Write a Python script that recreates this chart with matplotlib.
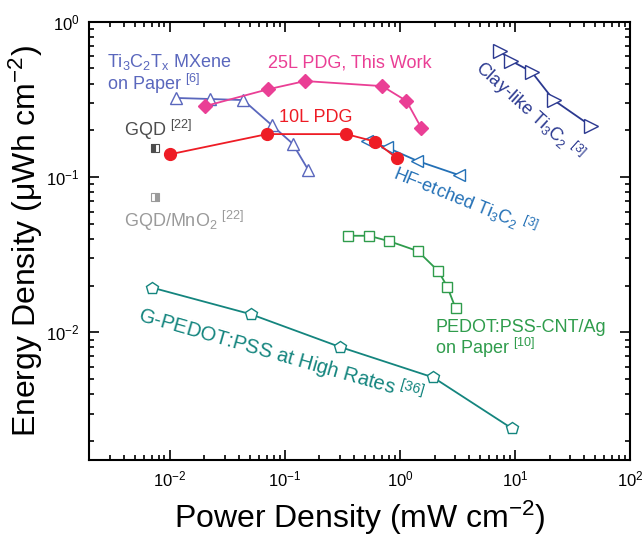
import numpy as np
import matplotlib
matplotlib.use("Agg")
import matplotlib.pyplot as plt

plt.rcParams['font.family'] = ['Liberation Sans', 'DejaVu Sans']
plt.rcParams['mathtext.fontset'] = 'custom'
plt.rcParams['mathtext.rm'] = 'Liberation Sans'
plt.rcParams['mathtext.it'] = 'Liberation Sans:italic'
plt.rcParams['mathtext.bf'] = 'Liberation Sans:bold'

# power density (mW cm-2), energy density (uWh cm-2)
pdg25_p = [0.0202, 0.0711, 0.150, 0.702, 1.14, 1.53]
pdg25_e = [0.286, 0.367, 0.415, 0.385, 0.309, 0.208]

pdg10_p = [0.0100, 0.0700, 0.342, 0.612, 0.946]
pdg10_e = [0.140, 0.189, 0.189, 0.169, 0.132]

mxene_p = [0.0113, 0.0226, 0.0435, 0.0775, 0.117, 0.160]
mxene_e = [0.323, 0.318, 0.313, 0.215, 0.164, 0.111]

clay_p = [7.43, 9.21, 13.95, 21.7, 45.9]
clay_e = [0.647, 0.561, 0.476, 0.313, 0.213]

hf_p = [0.519, 0.774, 1.42, 3.26]
hf_e = [0.171, 0.155, 0.127, 0.103]

cnt_p = [0.352, 0.536, 0.804, 1.43, 2.16, 2.58, 3.05]
cnt_e = [0.0419, 0.0419, 0.0387, 0.0334, 0.0248, 0.0197, 0.0143]

gpedot_p = [0.00706, 0.0506, 0.299, 1.95, 9.40]
gpedot_e = [0.0194, 0.0131, 0.00808, 0.00513, 0.00241]

gqd_p = [0.0075]
gqd_e = [0.154]
gqdmno2_p = [0.0075]
gqdmno2_e = [0.074]

c_pink = '#ea3f95'
c_red = '#ee1c25'
c_mx = '#5a67bd'
c_clay = '#2b3990'
c_hf = '#2370b6'
c_green = '#2f9c4c'
c_teal = '#14857e'
c_gqd = '#4d4d4d'
c_gqd2 = '#9a9a9a'

fig = plt.figure(figsize=(6.44, 5.36), dpi=100)
ax = fig.add_axes([0.1387, 0.1427, 0.8396, 0.8168])

lw = 1.3
ax.plot(mxene_p, mxene_e, '-^', color=c_mx, lw=lw, ms=9, mfc='white', mec=c_mx, mew=1.0)
ax.plot(clay_p, clay_e, '->', color=c_clay, lw=lw, ms=9.5, mfc='white', mec=c_clay, mew=1.0)
ax.plot(hf_p, hf_e, '-<', color=c_hf, lw=lw, ms=9, mfc='white', mec=c_hf, mew=1.0)
ax.plot(cnt_p, cnt_e, '-s', color=c_green, lw=lw, ms=7, mfc='white', mec=c_green, mew=1.0)
ax.plot(gpedot_p, gpedot_e, '-p', color=c_teal, lw=lw, ms=9, mfc='white', mec=c_teal, mew=1.0)
ax.plot(pdg10_p, pdg10_e, '-o', color=c_red, lw=lw, ms=8.5, mfc=c_red, mec=c_red)
ax.plot(pdg25_p, pdg25_e, '-D', color=c_pink, lw=lw, ms=7, mfc=c_pink, mec=c_pink)
ax.plot(gqd_p, gqd_e, 's', ms=6, fillstyle='left', mfc=c_gqd, mfcalt='white', mec=c_gqd, mew=0.8)
ax.plot(gqdmno2_p, gqdmno2_e, 's', ms=6, fillstyle='right', mfc=c_gqd2, mfcalt='white', mec=c_gqd2, mew=0.8)

ax.set_xscale('log')
ax.set_yscale('log')
ax.set_xlim(0.002, 100)
ax.set_ylim(0.00152, 1)

ax.tick_params(which='both', direction='in', top=True, right=True, width=1.2)
ax.tick_params(which='major', length=7, labelsize=12, pad=7)
ax.tick_params(which='minor', length=3.5)
for s in ax.spines.values():
    s.set_linewidth(1.5)

ax.set_xlabel('Power Density (mW cm$^{-2}$)', fontsize=23, labelpad=7)
ax.set_ylabel('Energy Density (\u03bcWh cm$^{-2}$)', fontsize=23, labelpad=1)


def px(x, y):
    # pixel position in the image -> axes fraction
    return (x - 89.3) / 540.7, (459.5 - y) / 437.8


def label(x, y, s, color, rot=0, ha='left', fs=13):
    fx, fy = px(x, y)
    ax.text(fx, fy, s, color=color, fontsize=fs, ha=ha, va='center',
            rotation=rot, rotation_mode='anchor', transform=ax.transAxes)


label(107, 62, 'Ti$_3$C$_2$T$_\\mathrm{x}$ MXene', c_mx)
label(107, 84, 'on Paper $^{[6]}$', c_mx)
label(268, 63, '25L PDG, This Work', c_pink)
label(279, 117, '10L PDG', c_red)
label(124, 130, 'GQD $^{[22]}$', c_gqd)
label(124, 221, 'GQD/MnO$_2$ $^{[22]}$', c_gqd2)
label(435, 327, 'PEDOT:PSS-CNT/Ag', c_green)
label(435, 348, 'on Paper $^{[10]}$', c_green)
label(529, 111, 'Clay-like Ti$_3$C$_2$ $^{[3]}$', c_clay, rot=-42, ha='center')
label(465, 201, 'HF-etched Ti$_3$C$_2$ $^{[3]}$', c_hf, rot=-22, ha='center')
label(281, 356, 'G-PEDOT:PSS at High Rates $^{[36]}$', c_teal, rot=-16, ha='center', fs=14.5)

fig.savefig('out.png', dpi=100)
